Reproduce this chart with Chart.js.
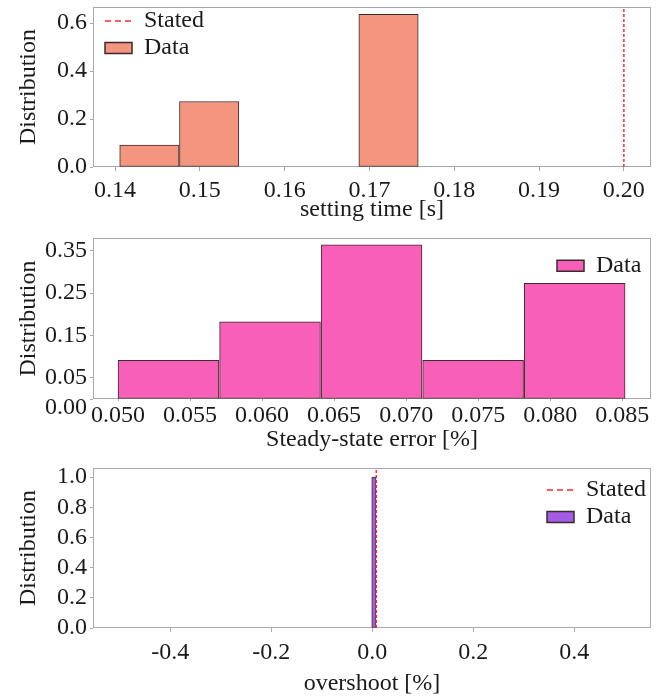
<!DOCTYPE html>
<html>
<head>
<meta charset="utf-8">
<script src="https://cdn.jsdelivr.net/npm/chart.js@4.4.1/dist/chart.umd.min.js"></script>
<style>
  body { margin: 0; background: #fff; }
  .panel { position: absolute; left: 0; width: 657px; }
  #p1 { top: 0; height: 228px; }
  #p2 { top: 228px; height: 226px; }
  #p3 { top: 454px; height: 244px; }
</style>
</head>
<body>
<div class="panel" id="p1"><canvas id="c1"></canvas></div>
<div class="panel" id="p2"><canvas id="c2"></canvas></div>
<div class="panel" id="p3"><canvas id="c3"></canvas></div>
<script>
// settling time histogram (11 runs)
const settleEdges  = [0.1405, 0.1476, 0.1546, 0.1617, 0.1687, 0.1758];
const settleDist   = [0.091, 0.273, 0, 0, 0.636];
const settleStated = 0.20;
const settleXTicks = [0.14, 0.15, 0.16, 0.17, 0.18, 0.19, 0.20];
const settleYTicks = [0, 0.2, 0.4, 0.6];

// steady-state error histogram
const errorEdges  = [0.0500, 0.0570, 0.0641, 0.0711, 0.0782, 0.0852];
const errorDist   = [0.091, 0.182, 0.364, 0.091, 0.273];
const errorXTicks = [0.050, 0.055, 0.060, 0.065, 0.070, 0.075, 0.080, 0.085];
const errorYTicks = [0, 0.05, 0.15, 0.25, 0.35];

// overshoot histogram
const overEdges  = [-0.001, 0.0075];
const overDist   = [1.0];
const overStated = 0.008;
const overXTicks = [-0.4, -0.2, 0, 0.2, 0.4];
const overYTicks = [0, 0.2, 0.4, 0.6, 0.8, 1.0];

Chart.defaults.font.family = "'Liberation Serif', 'Times New Roman', serif";
Chart.defaults.font.size = 24;
Chart.defaults.color = "#1a1a1a";
Chart.defaults.animation = false;

const RED = "#ff2a2a";

const framePlugin = {
  id: "frame",
  beforeDatasetsDraw(chart) {
    const { ctx, chartArea: a } = chart;
    ctx.save();
    ctx.strokeStyle = "#a8a8a8";
    ctx.lineWidth = 1;
    ctx.strokeRect(a.left + 0.5, a.top + 0.5, a.width - 1, a.height - 1);
    ctx.restore();
  }
};

// put the legend box inside the plot where the original has it
const legendMover = {
  id: "legendMover",
  afterLayout(chart, args, opts) {
    const lg = chart.legend;
    if (!lg) return;
    lg.left = chart.chartArea.left + opts.dx;
    lg.top = chart.chartArea.top + opts.dy;
  }
};

function legendLabels(chart) {
  const items = Chart.defaults.plugins.legend.labels.generateLabels(chart);
  items.forEach(it => {
    const ds = chart.data.datasets[it.datasetIndex];
    if (ds.type === "line") {
      it.pointStyle = "line";
      it.lineDash = [6, 4];
      it.lineWidth = 1.6;
      it.strokeStyle = RED;
    } else {
      it.pointStyle = "rect";
      it.lineWidth = 1.5;
    }
  });
  return items;
}

function makePanel(id, p) {
  const centers = p.dist.map((_, i) => (p.edges[i] + p.edges[i + 1]) / 2);
  const datasets = [];
  if (p.stated !== undefined) {
    datasets.push({
      type: "line", label: "Stated", xAxisID: "x",
      data: [{ x: p.stated, y: 0 }, { x: p.stated, y: p.yMax }],
      borderColor: RED, borderWidth: 1.5, borderDash: [3, 2],
      pointRadius: 0, fill: false
    });
  }
  datasets.push({
    type: "bar", label: "Data", xAxisID: "xb",
    data: centers.map((x, i) => ({ x, y: p.dist[i] })),
    backgroundColor: p.color, borderColor: "#3d2b2b", borderWidth: 1,
    borderSkipped: false, grouped: false, barPercentage: 1, categoryPercentage: 1
  });

  return new Chart(document.getElementById(id), {
    type: "bar",
    data: { datasets },
    options: {
      responsive: true,
      maintainAspectRatio: false,
      layout: { padding: { top: p.padTop, right: 6, left: 0, bottom: 0 } },
      plugins: {
        tooltip: { enabled: false },
        legend: {
          position: "chartArea", align: "start",
          labels: { usePointStyle: true, pointStyleWidth: 27, boxHeight: 11, padding: 3,
                    generateLabels: legendLabels }
        },
        legendMover: { dx: p.legendDx, dy: p.legendDy }
      },
      scales: {
        x: {
          type: "linear", min: p.xMin, max: p.xMax, offset: false,
          afterBuildTicks: s => { s.ticks = p.xTicks.map(v => ({ value: v })); },
          ticks: { callback: v => v.toFixed(p.xDec), maxRotation: 0, autoSkip: false, padding: p.xPad },
          grid: { drawOnChartArea: false, offset: false, tickLength: p.xTickLen, color: "#aaa" },
          border: { display: false },
          title: { display: true, text: p.xTitle, padding: { top: 0, bottom: p.xTitlePad } },
          afterFit: s => { s.height = p.xAxisH; s.paddingLeft = 0; s.paddingRight = 0; }
        },
        xb: {
          type: "linear", display: false, min: p.xMin, max: p.xMax, offset: false,
          grid: { offset: false },
          afterBuildTicks: s => { s.ticks = p.edges.map(v => ({ value: v })); }
        },
        y: {
          min: 0, max: p.yMax,
          afterBuildTicks: s => { s.ticks = p.yTicks.map(v => ({ value: v })); },
          ticks: {
            // the original drops its "0.00" label below the axis line
            callback: v => (p.yZeroLow && v === 0) ? ["", v.toFixed(p.yDec)] : v.toFixed(p.yDec),
            padding: 3,
            font: { lineHeight: p.yZeroLow ? 0.7 : 1.2 }
          },
          grid: { drawOnChartArea: false, tickLength: 3, color: "#aaa" },
          border: { display: false },
          title: { display: true, text: "Distribution", padding: { top: 14, bottom: 0 } },
          afterFit: s => { s.width = 93; s.paddingTop = 0; s.paddingBottom = 0; }
        }
      }
    },
    plugins: [framePlugin, legendMover]
  });
}

makePanel("c1", {
  edges: settleEdges, dist: settleDist, stated: settleStated, color: "#f3957f",
  xTicks: settleXTicks, yTicks: settleYTicks, xDec: 2, yDec: 1,
  xMin: 0.1374, xMax: 0.2032, yMax: 0.667,
  xTitle: "setting time [s]", padTop: 7, xAxisH: 61, xPad: 5, xTickLen: 4, xTitlePad: 4,
  legendDx: 9, legendDy: -1
});

makePanel("c2", {
  edges: errorEdges, dist: errorDist, color: "#f85fb9",
  xTicks: errorXTicks, yTicks: errorYTicks, xDec: 3, yDec: 2, yZeroLow: true,
  xMin: 0.04826, xMax: 0.0870, yMax: 0.38,
  xTitle: "Steady-state error [%]", padTop: 10, xAxisH: 55, xPad: 0, xTickLen: 2, xTitlePad: 0,
  legendDx: 461, legendDy: 12.7
});

makePanel("c3", {
  edges: overEdges, dist: overDist, stated: overStated, color: "#a35ce5",
  xTicks: overXTicks, yTicks: overYTicks, xDec: 1, yDec: 1,
  xMin: -0.553, xMax: 0.552, yMax: 1.06,
  xTitle: "overshoot [%]", padTop: 14, xAxisH: 70, xPad: 6, xTickLen: 4, xTitlePad: 0,
  legendDx: 451, legendDy: 7
});
</script>
</body>
</html>
